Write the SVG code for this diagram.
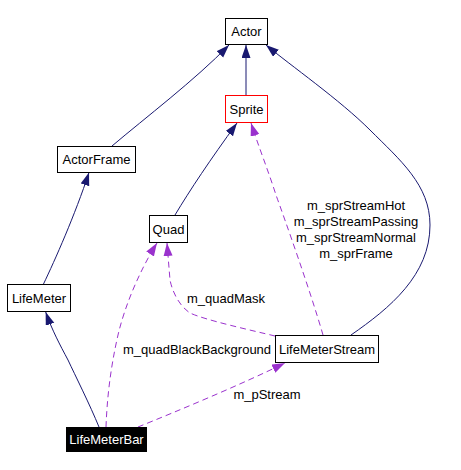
<svg xmlns="http://www.w3.org/2000/svg" width="461" height="470" viewBox="0 0 461 470">
<style>
.box{fill:#ffffff;stroke:#000000;stroke-width:1}
.lbl{font-family:"Liberation Sans",Arial,sans-serif;font-size:13px;fill:#000000;text-anchor:middle}
.inh{fill:none;stroke:#191970;stroke-width:1}
.use{fill:none;stroke:#9a32cd;stroke-width:1;stroke-dasharray:6,4}
</style>
<defs>
<marker id="an" markerUnits="userSpaceOnUse" markerWidth="14" markerHeight="10" refX="13" refY="4.5" orient="auto">
<path d="M0,0 L13,4.5 L0,9 z" fill="#191970"/>
</marker>
<marker id="ap" markerUnits="userSpaceOnUse" markerWidth="14" markerHeight="10" refX="13" refY="4.5" orient="auto">
<path d="M0,0 L13,4.5 L0,9 z" fill="#9a32cd"/>
</marker>
</defs>
<rect width="461" height="470" fill="#ffffff"/>
<g id="connectors">
<path class="inh" marker-end="url(#an)" d="M112,146 C145,118 195,80 229,45"/>
<path class="inh" marker-end="url(#an)" d="M246,95 L246,45"/>
<path class="inh" marker-end="url(#an)" d="M351,335 C390,308 430,275 430,225 C430,185 400,160 370,130 C340,100 290,65 266,45"/>
<path class="inh" marker-end="url(#an)" d="M175,215 C190,190 210,160 237,123"/>
<path class="inh" marker-end="url(#an)" d="M43.5,284 C55,260 75,215 89,172.5"/>
<path class="inh" marker-end="url(#an)" d="M99,427 C90,405 75,375 68,360 C60,345 52,330 45.7,312"/>
<path class="use" marker-end="url(#ap)" d="M323,335 C310,290 285,220 276,195 C268,170 258,145 251,123"/>
<path class="use" marker-end="url(#ap)" d="M275,336 C250,330 205,320 190,313 C178,305 172,290 170,280 L167,243"/>
<path class="use" marker-end="url(#ap)" d="M106,427 C107,400 110,370 118,335 C125,305 140,270 157,243"/>
<path class="use" marker-end="url(#ap)" d="M138,427 C180,410 240,385 285,363"/>
<text class="lbl" x="356" y="210">m_sprStreamHot</text>
<text class="lbl" x="356" y="226">m_sprStreamPassing</text>
<text class="lbl" x="356" y="242">m_sprStreamNormal</text>
<text class="lbl" x="356" y="258">m_sprFrame</text>
<text class="lbl" x="226" y="303">m_quadMask</text>
<text class="lbl" x="197" y="354">m_quadBlackBackground</text>
<text class="lbl" x="267" y="399">m_pStream</text>
</g>
<g id="Actor"><rect class="box" x="225.5" y="18.5" width="42" height="26"/><text class="lbl" x="246.5" y="36">Actor</text></g>
<g id="Sprite"><rect class="box" x="225.5" y="95.5" width="42" height="27" style="stroke:#ff0000"/><text class="lbl" x="246.5" y="113.5">Sprite</text></g>
<g id="ActorFrame"><rect class="box" x="57.5" y="146.5" width="78" height="26"/><text class="lbl" x="96.5" y="164">ActorFrame</text></g>
<g id="Quad"><rect class="box" x="149.5" y="215.5" width="38" height="27"/><text class="lbl" x="168.5" y="233.5">Quad</text></g>
<g id="LifeMeter"><rect class="box" x="7.5" y="284.5" width="63" height="27"/><text class="lbl" x="39" y="302.5">LifeMeter</text></g>
<g id="LifeMeterStream"><rect class="box" x="275.5" y="335.5" width="103" height="27"/><text class="lbl" x="327" y="353.5">LifeMeterStream</text></g>
<g id="LifeMeterBar"><rect x="66" y="427" width="81" height="25" fill="#000000"/><text class="lbl" x="106.5" y="444" style="fill:#ffffff">LifeMeterBar</text></g>
</svg>
